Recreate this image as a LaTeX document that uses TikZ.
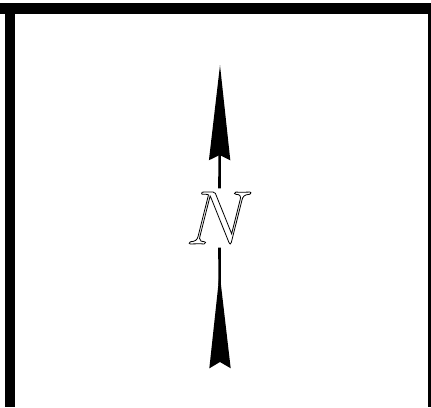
\RequirePackage{fix-cm}
\documentclass[tikz,border=0pt]{standalone}
\usetikzlibrary{arrows.meta}
\newcommand{\outlinetext}[1]{\special{pdf:code q 1 Tr 0.8 w}#1\special{pdf:code Q}}
\begin{document}
\begin{tikzpicture}[x=1pt,y=-1pt,
  frame/.style={fill=black,draw=none},
  shaft/.style={line width=2.6pt,draw=black},
  north/.style={inner sep=0pt,minimum height=59pt,font=\fontsize{76}{76}\selectfont}]
\useasboundingbox (0,0) rectangle (431,407);
\fill[white] (0,0) rectangle (431,407);
% frame
\path[frame] (0,3) rectangle (431,14);
\path[frame] (4.5,3) rectangle (15,407);
\path[frame] (427.8,14) rectangle (430.6,407);
% north arrow
\node[north] (N) at (219.5,218) {\outlinetext{$N$}};
\coordinate (top) at (220,65);
\coordinate (bot) at (220,368);
\draw[shaft,-{Stealth[length=95pt,width=21pt,inset=5pt]}] (N.north) -- (top);
\draw[shaft,{Stealth[length=95pt,width=21pt,inset=6pt,reversed]}-] (bot) -- (N.south);
\end{tikzpicture}
\end{document}
